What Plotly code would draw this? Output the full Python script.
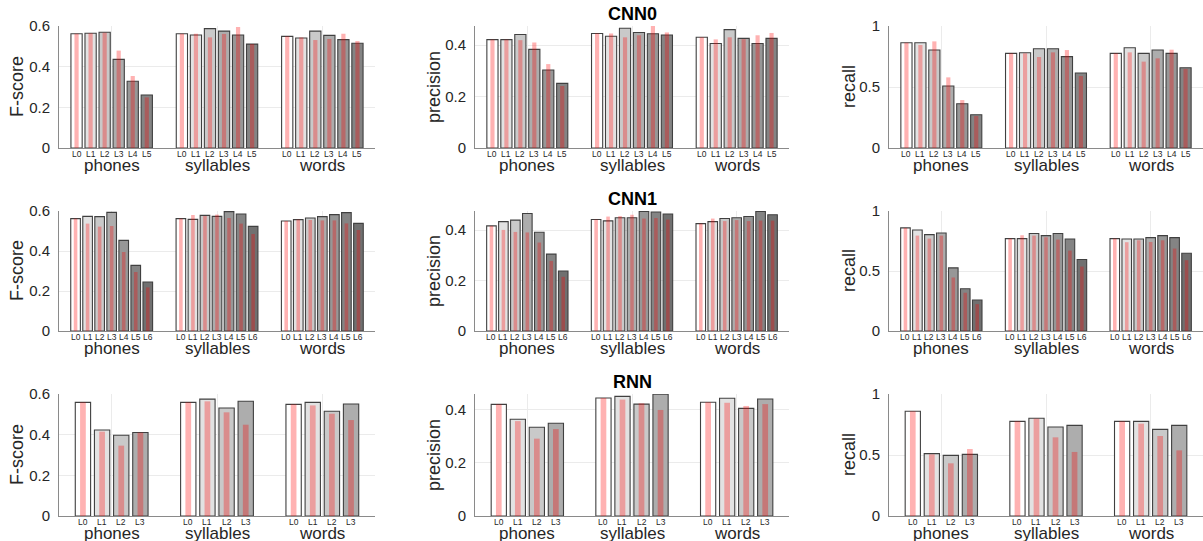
import plotly.graph_objects as go

# ---------------- data ----------------
GROUPS = ["phones", "syllables", "words"]
NETWORKS = ["CNN0", "CNN1", "RNN"]
METRICS = ["F-score", "precision", "recall"]
LAYERS_CNN0 = ["L0", "L1", "L2", "L3", "L4", "L5"]
LAYERS_CNN1 = ["L0", "L1", "L2", "L3", "L4", "L5", "L6"]
LAYERS_RNN = ["L0", "L1", "L2", "L3"]

# values per group (phones, syllables, words), one entry per layer
cnn0_fscore = [[0.562, 0.564, 0.569, 0.436, 0.328, 0.261],
               [0.562, 0.556, 0.587, 0.575, 0.556, 0.511],
               [0.549, 0.541, 0.575, 0.554, 0.533, 0.515]]
cnn0_fscore_red = [[0.562, 0.564, 0.567, 0.479, 0.354, 0.249],
                   [0.562, 0.562, 0.544, 0.561, 0.595, 0.511],
                   [0.549, 0.544, 0.531, 0.536, 0.562, 0.526]]
cnn0_precision = [[0.421, 0.421, 0.441, 0.383, 0.303, 0.251],
                  [0.445, 0.434, 0.465, 0.449, 0.444, 0.439],
                  [0.430, 0.406, 0.460, 0.426, 0.406, 0.426]]
cnn0_precision_red = [[0.421, 0.421, 0.419, 0.410, 0.326, 0.241],
                      [0.445, 0.445, 0.430, 0.438, 0.474, 0.449],
                      [0.430, 0.422, 0.430, 0.423, 0.438, 0.447]]
cnn0_recall = [[0.863, 0.863, 0.803, 0.508, 0.363, 0.273],
               [0.776, 0.781, 0.814, 0.814, 0.749, 0.615],
               [0.776, 0.822, 0.776, 0.803, 0.776, 0.658]]
cnn0_recall_red = [[0.863, 0.844, 0.874, 0.579, 0.393, 0.262],
                   [0.776, 0.776, 0.746, 0.784, 0.803, 0.590],
                   [0.776, 0.784, 0.708, 0.735, 0.806, 0.648]]

cnn1_fscore = [[0.562, 0.573, 0.572, 0.593, 0.453, 0.328, 0.245],
               [0.562, 0.558, 0.578, 0.573, 0.597, 0.585, 0.523],
               [0.550, 0.557, 0.565, 0.572, 0.582, 0.592, 0.538]]
cnn1_fscore_red = [[0.562, 0.537, 0.522, 0.525, 0.395, 0.295, 0.218],
                   [0.562, 0.580, 0.575, 0.582, 0.565, 0.537, 0.485],
                   [0.550, 0.557, 0.555, 0.553, 0.553, 0.538, 0.505]]
cnn1_precision = [[0.417, 0.434, 0.440, 0.466, 0.392, 0.305, 0.238],
                  [0.442, 0.437, 0.449, 0.449, 0.474, 0.472, 0.464],
                  [0.426, 0.434, 0.446, 0.449, 0.454, 0.474, 0.461]]
cnn1_precision_red = [[0.417, 0.401, 0.393, 0.391, 0.351, 0.278, 0.215],
                      [0.442, 0.454, 0.456, 0.461, 0.446, 0.448, 0.442],
                      [0.426, 0.446, 0.436, 0.440, 0.436, 0.438, 0.438]]
cnn1_recall = [[0.859, 0.842, 0.803, 0.817, 0.526, 0.352, 0.258],
               [0.770, 0.770, 0.812, 0.795, 0.812, 0.767, 0.596],
               [0.770, 0.767, 0.767, 0.778, 0.795, 0.778, 0.648]]
cnn1_recall_red = [[0.859, 0.795, 0.770, 0.795, 0.446, 0.319, 0.224],
                   [0.770, 0.798, 0.795, 0.781, 0.762, 0.670, 0.537],
                   [0.770, 0.740, 0.756, 0.742, 0.756, 0.687, 0.590]]

rnn_fscore = [[0.559, 0.423, 0.397, 0.411],
              [0.559, 0.575, 0.531, 0.564],
              [0.549, 0.559, 0.515, 0.551]]
rnn_fscore_red = [[0.559, 0.415, 0.346, 0.410],
                  [0.559, 0.564, 0.510, 0.449],
                  [0.549, 0.544, 0.503, 0.472]]
rnn_precision = [[0.420, 0.364, 0.334, 0.349],
                 [0.444, 0.450, 0.421, 0.458],
                 [0.428, 0.443, 0.405, 0.440]]
rnn_precision_red = [[0.420, 0.357, 0.291, 0.327],
                     [0.444, 0.438, 0.424, 0.399],
                     [0.428, 0.426, 0.414, 0.421]]
rnn_recall = [[0.858, 0.511, 0.497, 0.505],
              [0.776, 0.801, 0.730, 0.743],
              [0.776, 0.776, 0.710, 0.743]]
rnn_recall_red = [[0.858, 0.505, 0.432, 0.549],
                  [0.776, 0.798, 0.645, 0.525],
                  [0.776, 0.757, 0.656, 0.538]]

Y_TICKS_FSCORE = [0, 0.2, 0.4, 0.6]
Y_TICKS_PRECISION = [0, 0.2, 0.4]
Y_TICKS_RECALL = [0, 0.5, 1]
Y_TICKTEXT_FSCORE = ["0", "0.2", "0.4", "0.6"]
Y_TICKTEXT_PRECISION = ["0", "0.2", "0.4"]
Y_TICKTEXT_RECALL = ["0", "0.5", "1"]
Y_MAX_FSCORE = [0.6, 0.6, 0.6]
Y_MAX_PRECISION = [0.474, 0.476, 0.459]
Y_MAX_RECALL = [1.0, 1.0, 1.0]

# ---------------- styling ----------------
W, H = 1203, 541
LAYER_COLORS = ["#ffffff", "#e2e2e2", "#c9c9c9", "#adadad", "#979797", "#848484", "#707070"]
RED = "rgba(255,0,0,0.3)"
EDGE = "#404040"
TEXT = "#262626"
FONT = "Liberation Sans, Arial, sans-serif"
COL_PX = [(59, 375), (475, 789), (889, 1203)]
ROW_PX = [(26, 148), (211, 331), (394, 516)]
YTITLE_SHIFT = [-42, -41, -40]

panels = {
    (0, 0): (cnn0_fscore, cnn0_fscore_red, LAYERS_CNN0),
    (0, 1): (cnn0_precision, cnn0_precision_red, LAYERS_CNN0),
    (0, 2): (cnn0_recall, cnn0_recall_red, LAYERS_CNN0),
    (1, 0): (cnn1_fscore, cnn1_fscore_red, LAYERS_CNN1),
    (1, 1): (cnn1_precision, cnn1_precision_red, LAYERS_CNN1),
    (1, 2): (cnn1_recall, cnn1_recall_red, LAYERS_CNN1),
    (2, 0): (rnn_fscore, rnn_fscore_red, LAYERS_RNN),
    (2, 1): (rnn_precision, rnn_precision_red, LAYERS_RNN),
    (2, 2): (rnn_recall, rnn_recall_red, LAYERS_RNN),
}
metric_ticks = [(Y_TICKS_FSCORE, Y_TICKTEXT_FSCORE, Y_MAX_FSCORE),
                (Y_TICKS_PRECISION, Y_TICKTEXT_PRECISION, Y_MAX_PRECISION),
                (Y_TICKS_RECALL, Y_TICKTEXT_RECALL, Y_MAX_RECALL)]

fig = go.Figure()
annotations = []
layout = {}

for (r, c), (vals, reds, layers) in panels.items():
    k = r * 3 + c + 1
    sfx = "" if k == 1 else str(k)
    xref, yref = "x" + sfx, "y" + sfx
    n = len(layers)
    group_width = min(0.8, n / (n + 1.5))
    spacing = group_width / n
    gpos = [i + 1 for i in range(len(GROUPS))]

    for li in range(n):
        off = (li - (n - 1) / 2) * spacing
        fig.add_trace(go.Bar(
            x=[g + off for g in gpos], y=[vals[gi][li] for gi in range(len(GROUPS))],
            width=0.8 * spacing, xaxis=xref, yaxis=yref, showlegend=False,
            marker=dict(color=LAYER_COLORS[li], line=dict(color=EDGE, width=1.1)),
            hoverinfo="y"))
    for li in range(n):
        off = (li - (n - 1) / 2) * spacing
        fig.add_trace(go.Bar(
            x=[g + off for g in gpos], y=[reds[gi][li] for gi in range(len(GROUPS))],
            width=0.3 * spacing, xaxis=xref, yaxis=yref, showlegend=False,
            marker=dict(color=RED, line=dict(width=0)), hoverinfo="y"))
        for gi, g in enumerate(gpos):
            annotations.append(dict(
                x=g + off, xref=xref, y=0, yref=yref + " domain", yanchor="middle",
                yshift=-6, text=layers[li], showarrow=False, borderpad=0,
                font=dict(size=8.5, color=TEXT, family=FONT)))

    for gi, g in enumerate(gpos):
        annotations.append(dict(
            x=g, xref=xref, y=0, yref=yref + " domain", yanchor="middle", yshift=-17.5,
            text=GROUPS[gi], showarrow=False, borderpad=0,
            font=dict(size=17, color=TEXT, family=FONT)))

    ticks, ticktext, ymax = metric_ticks[c]
    annotations.append(dict(
        x=0, xref=xref + " domain", xanchor="center", xshift=YTITLE_SHIFT[c],
        y=0.5, yref=yref + " domain", yanchor="middle", textangle=-90,
        text=METRICS[c], showarrow=False, font=dict(size=18, color=TEXT, family=FONT)))

    x0, x1 = COL_PX[c]
    y0, y1 = ROW_PX[r]
    layout["xaxis" + sfx] = dict(
        domain=[x0 / W, x1 / W], range=[0.5, 3.5], anchor=yref,
        tickvals=gpos, showticklabels=False, ticks="", showgrid=True,
        gridcolor="#ebebeb", gridwidth=1, zeroline=False,
        showline=True, linecolor="#8a8a8a", linewidth=1, fixedrange=True)
    layout["yaxis" + sfx] = dict(
        domain=[1 - y1 / H, 1 - y0 / H], range=[0, ymax[r]], anchor=xref,
        tickvals=ticks, ticktext=ticktext, ticks="", ticklabelstandoff=5,
        tickfont=dict(size=15, color=TEXT, family=FONT),
        showgrid=True, gridcolor="#ebebeb", gridwidth=1, zeroline=False,
        showline=True, linecolor="#8a8a8a", linewidth=1, fixedrange=True)

# network titles above middle column
for r, name in enumerate(NETWORKS):
    sfx = str(r * 3 + 2)
    annotations.append(dict(
        x=0.5, xref="x" + sfx + " domain", y=1, yref="y" + sfx + " domain",
        yanchor="middle", yshift=12, text="<b>" + name + "</b>", showarrow=False,
        font=dict(size=18, color="#000000", family=FONT)))

fig.update_layout(
    width=W, height=H, template="none", barmode="overlay",
    margin=dict(l=0, r=0, t=0, b=0),
    paper_bgcolor="white", plot_bgcolor="white",
    font=dict(family=FONT, color=TEXT), hovermode=False,
    annotations=annotations, **layout)

fig.write_html(
    "out.html",
    config={"displayModeBar": False, "staticPlot": True},
    post_script="document.body.style.margin='0';document.body.style.overflow='hidden';")
